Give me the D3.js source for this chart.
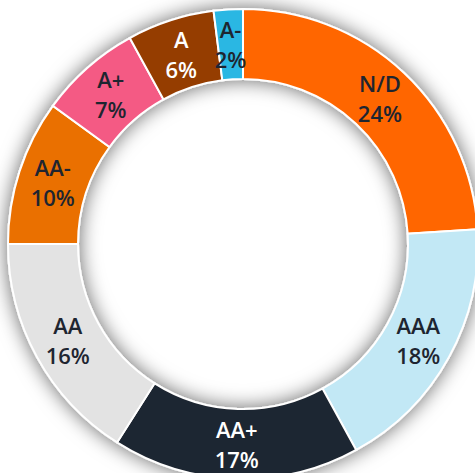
<!DOCTYPE html>
<html>
<head>
<meta charset="utf-8">
<script src="https://cdn.jsdelivr.net/npm/d3@7"></script>
<style>
  html, body { margin: 0; padding: 0; background: #fff; overflow: hidden; }
  svg { display: block; }
  text { font-family: "Open Sans", "Noto Sans", sans-serif; font-weight: 600; }
</style>
</head>
<body>
<svg id="chart" width="475" height="473"></svg>
<script>
// ratings, clockwise from 12 o'clock
var labels = ["N/D", "AAA", "AA+", "AA", "AA-", "A+", "A", "A-"];
var values = [24, 18, 17, 16, 10, 7, 6, 2];
var colors = ["#ff6600", "#c2e8f5", "#1e2530", "#e3e3e3", "#ea7000", "#f45a84", "#953c00", "#2bb7e3"];
var textColors = ["#1e2530", "#1e2530", "#ffffff", "#1e2530", "#1e2530", "#1e2530", "#ffffff", "#1e2530"];

var svg = d3.select("#chart");
var cx = 243, cy = 244;
var outerR = 235, innerR = 165;

var data = labels.map(function(d, i) {
    return { label: d, value: values[i], color: colors[i], text: textColors[i] };
});

// soft shadow round the ring
var defs = svg.append("defs");
var f = defs.append("filter")
    .attr("id", "shadow")
    .attr("x", "-20%").attr("y", "-20%")
    .attr("width", "140%").attr("height", "140%");
f.append("feDropShadow")
    .attr("dx", 0).attr("dy", 0)
    .attr("stdDeviation", 10)
    .attr("flood-color", "#000")
    .attr("flood-opacity", 0.6);

var pie = d3.pie()
    .sort(null)
    .value(function(d) { return d.value; });

var arc = d3.arc()
    .innerRadius(innerR)
    .outerRadius(outerR);

var labelArc = d3.arc()
    .innerRadius((innerR + outerR) / 2)
    .outerRadius((innerR + outerR) / 2);

var g = svg.append("g")
    .attr("transform", "translate(" + cx + "," + cy + ")");

var arcs = pie(data);

g.append("g")
    .attr("filter", "url(#shadow)")
    .selectAll("path")
    .data(arcs)
    .enter().append("path")
    .attr("d", arc)
    .attr("fill", function(d) { return d.data.color; })
    .attr("stroke", "#fff")
    .attr("stroke-width", 2);

var lbl = g.append("g")
    .selectAll("text")
    .data(arcs)
    .enter().append("text")
    .attr("transform", function(d) { return "translate(" + labelArc.centroid(d) + ")"; })
    .attr("text-anchor", "middle")
    .attr("font-size", 22)
    .attr("fill", function(d) { return d.data.text; });

lbl.append("tspan")
    .attr("x", 0)
    .attr("y", -6)
    .text(function(d) { return d.data.label; });

lbl.append("tspan")
    .attr("x", 0)
    .attr("y", 24)
    .text(function(d) { return d.data.value + "%"; });
</script>
</body>
</html>
